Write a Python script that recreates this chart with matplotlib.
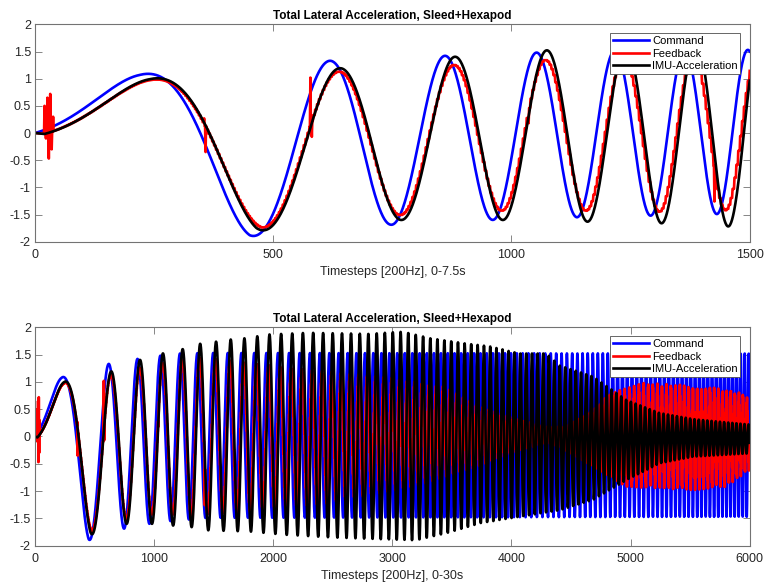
import numpy as np
import matplotlib.pyplot as plt

plt.rcParams['font.family'] = ['Liberation Sans', 'DejaVu Sans']
plt.rcParams['axes.unicode_minus'] = False

fs = 200
duration_s = 30.0
f_start_hz = 0.1
f_end_hz = 6.0
n_steps = 6001

# envelope knots (timestep, value)
cmd_up_t = [0, 220, 620, 857, 1051, 1217, 1498, 6000]
cmd_up_v = [1.07, 1.08, 1.33, 1.42, 1.48, 1.52, 1.53, 1.52]
cmd_lo_t = [0, 451, 743, 957, 1136, 1294, 1435, 6000]
cmd_lo_v = [-1.07, -1.90, -1.69, -1.60, -1.55, -1.52, -1.49, -1.47]

fb_up_t = [0, 240, 640, 873, 1084, 1400, 1800, 2300, 2900, 3455, 3734, 4014, 4293,
           4450, 4685, 4825, 5104, 5384, 5664, 5943, 6000]
fb_up_v = [0.98, 0.98, 1.13, 1.25, 1.35, 1.45, 1.35, 1.22, 1.10, 0.91, 0.55, 0.36, 0.18,
           0.18, 0.48, 0.79, 0.98, 0.95, 0.91, 0.79, 0.67]
fb_lo_t = [0, 475, 764, 975, 1150, 1309, 1452, 1800, 2400, 2900, 3175, 3455, 3734,
           4014, 4293, 4405, 4685, 4964, 5244, 5524, 5803, 6000]
fb_lo_v = [-0.98, -1.74, -1.51, -1.43, -1.43, -1.45, -1.42, -1.38, -1.25, -1.04, -0.92,
           -0.74, -0.55, -0.31, -0.12, -0.19, -0.55, -0.92, -0.95, -0.98, -0.92, -0.61]

imu_up_t = [0, 240, 637, 876, 1070, 1240, 1390, 1530, 1655, 1770, 1880, 1972, 2300,
            2800, 3090, 3315, 3594, 3818, 4070, 4293, 4405, 4685, 4964, 5244, 5524,
            5800, 6000]
imu_up_v = [1.0, 1.0, 1.19, 1.40, 1.52, 1.60, 1.70, 1.74, 1.78, 1.80, 1.84, 1.87, 1.90,
            1.88, 1.92, 1.80, 1.71, 1.65, 1.52, 1.52, 1.30, 1.10, 0.67, 0.43, 0.32,
            0.26, 0.22]
imu_lo_t = [0, 465, 757, 982, 1154, 1315, 1459, 1800, 2100, 2500, 2900, 3200, 3455,
            3734, 3900, 4070, 4405, 4685, 4964, 5244, 5524, 6000]
imu_lo_v = [-1.0, -1.80, -1.60, -1.60, -1.63, -1.66, -1.72, -1.74, -1.80, -1.85, -1.88,
            -1.90, -1.77, -1.59, -1.53, -1.47, -1.35, -1.16, -0.80, -0.49, -0.37, -0.31]

# delays behind the command, in timesteps
fb_delay_t = [0, 1500, 6000]
fb_delay_v = [18, 17, 17]
imu_delay_t = [0, 1000, 1500, 2500, 6000]
imu_delay_v = [20, 21, 24, 28, 32]
fb_hold = 4  # feedback updates in steps

# glitches in the feedback trace (timestep, value)
spike_t = [20, 23, 26, 29, 32, 35, 38, 355, 358, 361, 578, 581, 1036, 1426]
spike_v = [0.5, -0.1, 0.65, -0.47, 0.72, -0.3, 0.3, 0.27, -0.35, 0.0, 1.02, -0.07,
           0.18, -1.26]

series_names = ['Command', 'Feedback', 'IMU-Acceleration']
series_colors = ['#0000ff', '#ff0000', '#000000']

steps = np.arange(n_steps)


def sweep_phase(k):
    s = np.clip(k, 0, None) / fs
    return 2 * np.pi * (f_start_hz * s + (f_end_hz - f_start_hz) * s ** 2 / (2 * duration_s))


def build(up_t, up_v, lo_t, lo_v, delay_t, delay_v):
    up = np.interp(steps, up_t, up_v)
    lo = np.interp(steps, lo_t, lo_v)
    delay = np.interp(steps, delay_t, delay_v)
    return (up + lo) / 2 + (up - lo) / 2 * np.sin(sweep_phase(steps - delay))


command = build(cmd_up_t, cmd_up_v, cmd_lo_t, cmd_lo_v, [0], [0])
feedback = build(fb_up_t, fb_up_v, fb_lo_t, fb_lo_v, fb_delay_t, fb_delay_v)
feedback = feedback[(steps // fb_hold) * fb_hold]
feedback[spike_t] = spike_v
imu = build(imu_up_t, imu_up_v, imu_lo_t, imu_lo_v, imu_delay_t, imu_delay_v)

fig = plt.figure(figsize=(7.64, 5.85), dpi=100)
ax_top = fig.add_axes([0.0458, 0.5868, 0.9355, 0.3716])
ax_bot = fig.add_axes([0.0458, 0.0672, 0.9355, 0.3733])

panels = [
    (ax_top, 1500, [0, 500, 1000, 1500], 'Timesteps [200Hz], 0-7.5s'),
    (ax_bot, 6000, [0, 1000, 2000, 3000, 4000, 5000, 6000], 'Timesteps [200Hz], 0-30s'),
]

for ax, xmax, xticks, xlabel in panels:
    sel = steps <= xmax
    for y, name, c in zip([command, feedback, imu], series_names, series_colors):
        ax.plot(steps[sel], y[sel], color=c, lw=1.9, label=name)
    ax.set_xlim(0, xmax)
    ax.set_ylim(-2, 2)
    ax.set_xticks(xticks)
    ax.set_yticks(np.arange(-2, 2.01, 0.5))
    ax.set_yticklabels(['-2', '-1.5', '-1', '-0.5', '0', '0.5', '1', '1.5', '2'])
    ax.tick_params(direction='in', length=5, width=0.6, colors='0.45', labelcolor='0.15',
                   labelsize=9, top=True, right=True, pad=3)
    ax.tick_params(axis='x', pad=5)
    for sp in ax.spines.values():
        sp.set_color('0.45')
        sp.set_linewidth(0.8)
    ax.set_title('Total Lateral Acceleration, Sleed+Hexapod', fontsize=8.5,
                 fontweight='bold', pad=4)
    ax.set_xlabel(xlabel, fontsize=9, color='0.15', labelpad=4)
    leg = ax.legend(loc='upper right', bbox_to_anchor=(0.987, 0.96), fontsize=8,
                    handlelength=3.2, handletextpad=0.3, labelspacing=0.25,
                    borderpad=0.25, borderaxespad=0.0, fancybox=False, framealpha=1)
    leg.get_frame().set_edgecolor('0.3')
    leg.get_frame().set_linewidth(0.6)

fig.savefig('out.png', dpi=100)
